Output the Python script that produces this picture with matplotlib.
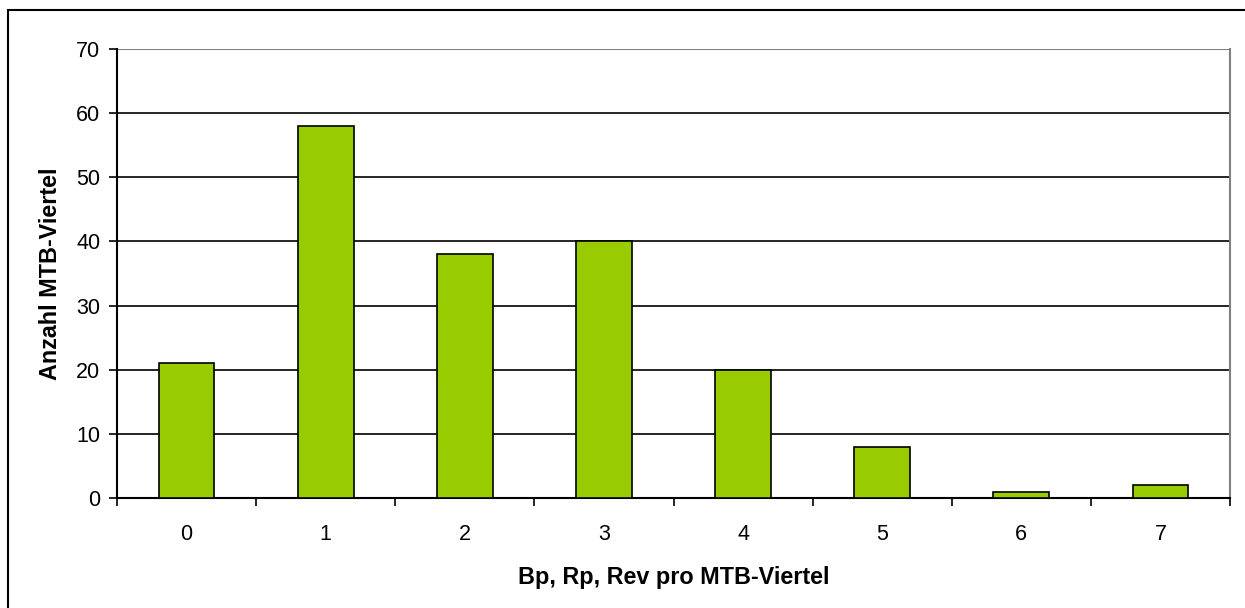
import matplotlib.pyplot as plt
from matplotlib.patches import Rectangle

# Daten
kategorien = ["0", "1", "2", "3", "4", "5", "6", "7"]
anzahl = [21, 58, 38, 40, 20, 8, 1, 2]
y_ticks = [0, 10, 20, 30, 40, 50, 60, 70]

plt.rcParams['font.family'] = ['Liberation Sans', 'DejaVu Sans']

fig = plt.figure(figsize=(12.45, 6.08), dpi=100)
ax = fig.add_axes([117 / 1245, 110 / 608, 1113 / 1245, 449 / 608])

# Rahmen um die Grafik (rechts und unten ausserhalb des Bildes)
fig.patches.append(Rectangle((8 / 1245, -20 / 608), 1300 / 1245, 618 / 608,
                             transform=fig.transFigure, fill=False,
                             edgecolor='black', linewidth=1.5))

x = list(range(len(kategorien)))
ax.bar(x, anzahl, width=0.4, color='#99cc00', edgecolor='black', linewidth=1.2, zorder=3)

ax.set_xlim(-0.5, len(kategorien) - 0.5)
ax.set_ylim(0, 70)
ax.set_yticks(y_ticks)
ax.set_yticklabels([str(v) for v in y_ticks], fontsize=15.5)
ax.set_xticks(x)
ax.set_xticklabels(kategorien, fontsize=15.5)
ax.tick_params(axis='x', length=0, pad=19)
ax.tick_params(axis='y', length=6, width=1.2, direction='out', pad=6)

# Ticks zwischen den Kategorien
ax.set_xticks([i - 0.5 for i in range(len(kategorien) + 1)], minor=True)
ax.tick_params(axis='x', which='minor', length=6, width=1.2, direction='out')

# Gitterlinien
for v in y_ticks[1:-1]:
    ax.axhline(v, color='black', linewidth=1.2, zorder=1)
ax.axhline(70, color='#808080', linewidth=1.5, zorder=1)

ax.spines['top'].set_visible(False)
ax.spines['right'].set_color('#808080')
ax.spines['right'].set_linewidth(1.5)
ax.spines['left'].set_linewidth(1.5)
ax.spines['bottom'].set_linewidth(1.5)

ax.set_xlabel("Bp, Rp, Rev pro MTB-Viertel", fontsize=16.8, fontweight='bold', labelpad=15)
ax.set_ylabel("Anzahl MTB-Viertel", fontsize=16.8, fontweight='bold', labelpad=10)

fig.savefig("out.png", dpi=100)
